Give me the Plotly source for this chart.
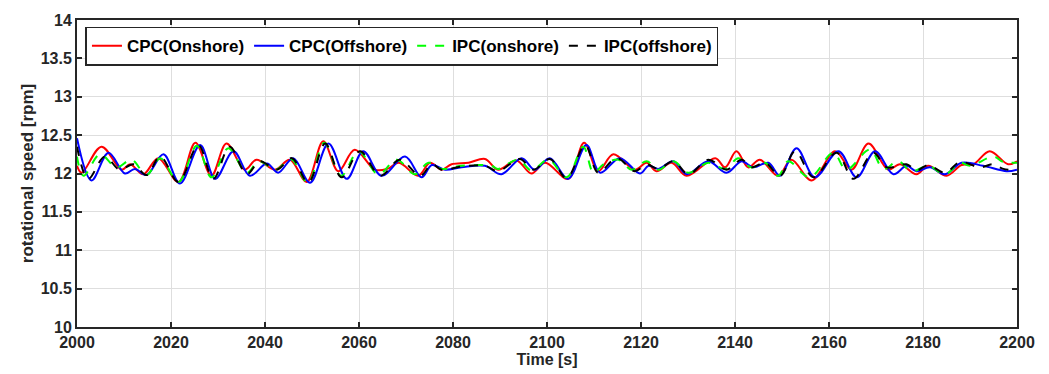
import plotly.graph_objects as go

# ---- data (time [s], rotational speed [rpm]) ----
cpc_on_t = [2000, 2001.0, 2005.2, 2009.5, 2011.3, 2014.1, 2017.3, 2021.6, 2025.2, 2028.6, 2031.8,
            2035.7, 2038.2, 2042.1, 2045.3, 2048.9, 2052.4, 2055.6, 2059.1, 2063.4, 2066.0, 2068.5,
            2072.6, 2075.1, 2077.6, 2079.7, 2083.3, 2086.8, 2089.6, 2093.5, 2096.7, 2099.6,
            2104.5, 2107.9, 2110.9, 2114.1, 2118.7, 2121.2, 2123.3, 2126.5, 2129.7, 2135.8,
            2137.9, 2140.3, 2142.8, 2145.3, 2149.2, 2152.0, 2156.3, 2161.3, 2164.8, 2168.4,
            2172.6, 2175.1, 2178.6, 2181.1, 2185.0, 2188.2, 2190.7, 2194.2, 2198.1, 2200]
cpc_on_v = [12.10, 12.01, 12.35, 12.05, 12.12, 11.99, 12.20, 11.89, 12.40, 11.97, 12.39,
            12.05, 12.18, 12.05, 12.18, 11.89, 12.42, 12.03, 12.31, 12.05, 12.06, 12.14,
            11.97, 12.14, 12.05, 12.12, 12.14, 12.19, 12.05, 12.17, 12.00, 12.14,
            11.93, 12.40, 12.03, 12.25, 12.05, 12.14, 12.03, 12.14, 11.97, 12.20,
            12.08, 12.29, 12.08, 12.18, 11.97, 12.18, 11.91, 12.29, 12.05, 12.39,
            12.05, 12.12, 11.99, 12.10, 11.97, 12.11, 12.12, 12.29, 12.12, 12.16]

cpc_off_t = [2000, 2003.1, 2006.7, 2010.2, 2012.3, 2014.8, 2018.4, 2021.9, 2026.2, 2029.4, 2033.3,
             2036.8, 2040.4, 2042.8, 2046.0, 2049.6, 2053.5, 2057.4, 2060.9, 2064.8,
             2069.8, 2073.3, 2075.5, 2078.3, 2081.8, 2086.8, 2090.3, 2094.6, 2097.4, 2100.6,
             2104.5, 2108.4, 2111.3, 2115.5, 2119.8, 2121.6, 2123.7, 2126.9, 2129.7, 2134.3,
             2138.2, 2141.4, 2143.9, 2147.1, 2149.6, 2153.1, 2157.0, 2162.0, 2165.9, 2169.8,
             2173.7, 2176.5, 2178.6, 2181.5, 2184.7, 2188.2, 2192.8, 2197.8, 2200]
cpc_off_v = [12.46, 11.91, 12.27, 12.00, 12.06, 11.98, 12.25, 11.87, 12.37, 11.93, 12.29,
             11.97, 12.13, 12.01, 12.20, 11.88, 12.39, 11.93, 12.29, 11.97,
             12.22, 11.95, 12.11, 12.05, 12.08, 12.10, 11.99, 12.20, 12.05, 12.20,
             11.93, 12.37, 12.01, 12.20, 12.00, 12.10, 12.06, 12.16, 11.99, 12.16,
             12.01, 12.16, 12.08, 12.14, 11.97, 12.33, 11.95, 12.29, 11.95, 12.29,
             11.99, 12.10, 12.03, 12.08, 11.99, 12.14, 12.10, 12.03, 12.05]

ipc_on_t = [2000, 2001.4, 2004.9, 2008.4, 2011.6, 2014.8, 2017.7, 2021.6, 2025.5, 2028.6, 2032.2,
            2036.1, 2038.7, 2042.3, 2045.5, 2049.1, 2052.6, 2056.2, 2059.9, 2064.1, 2068.0,
            2071.9, 2074.8, 2077.6, 2081.8, 2088.2, 2089.6, 2093.9, 2096.7, 2100.3,
            2104.2, 2107.7, 2109.9, 2112.0, 2115.2, 2118.0, 2121.2, 2123.7, 2126.9, 2130.1, 2134.3,
            2137.9, 2140.7, 2143.5, 2146.4, 2149.2, 2151.3, 2155.9, 2160.9, 2163.7, 2168.7,
            2171.6, 2174.7, 2177.6, 2181.1, 2184.7, 2187.9, 2190.0, 2195.0, 2197.1, 2200]
ipc_on_v = [12.22, 11.97, 12.25, 12.08, 12.18, 11.98, 12.20, 11.89, 12.36, 11.95, 12.33,
            12.01, 12.16, 12.05, 12.19, 11.88, 12.40, 11.97, 12.29, 11.99, 12.18,
            11.99, 12.14, 12.06, 12.10, 12.10, 12.06, 12.18, 12.04, 12.18,
            11.95, 12.35, 12.01, 12.12, 12.18, 12.05, 12.16, 12.05, 12.16, 12.01, 12.14,
            12.06, 12.20, 12.08, 12.14, 11.97, 12.16, 11.95, 12.27, 12.05, 12.31,
            12.06, 12.16, 12.03, 12.10, 11.99, 12.14, 12.10, 12.22, 12.15, 12.14]

ipc_off_t = [2000, 2002.4, 2005.9, 2009.1, 2012.0, 2014.8, 2017.7, 2021.6, 2025.8, 2029.0, 2032.5,
             2036.1, 2038.9, 2042.5, 2045.7, 2049.2, 2052.8, 2056.3, 2060.2, 2064.5, 2068.7,
             2073.0, 2075.5, 2077.6, 2081.8, 2086.8, 2089.6, 2094.2, 2097.1, 2100.6,
             2104.2, 2108.1, 2110.9, 2114.8, 2118.7, 2121.2, 2123.7, 2126.9, 2130.1, 2134.3,
             2138.2, 2141.4, 2143.5, 2146.4, 2149.6, 2152.8, 2156.7, 2161.6, 2165.2, 2169.4,
             2172.3, 2176.5, 2178.6, 2181.1, 2184.7, 2187.9, 2192.1, 2194.9, 2197.1, 2200]
ipc_off_v = [12.35, 11.93, 12.22, 12.05, 12.12, 11.98, 12.22, 11.89, 12.37, 11.93, 12.35,
             11.99, 12.16, 12.05, 12.20, 11.88, 12.39, 11.95, 12.29, 11.97, 12.18,
             11.97, 12.12, 12.05, 12.09, 12.10, 12.03, 12.19, 12.05, 12.19,
             11.94, 12.37, 12.01, 12.20, 12.03, 12.12, 12.06, 12.16, 11.99, 12.18,
             12.05, 12.18, 12.08, 12.14, 11.97, 12.29, 11.95, 12.27, 11.93, 12.27,
             12.08, 12.12, 12.04, 12.11, 12.01, 12.15, 12.08, 12.12, 12.06, 12.04]

series_names = ["CPC(Onshore)", "CPC(Offshore)", "IPC(onshore)", "IPC(offshore)"]
x_tick_vals = [2000, 2020, 2040, 2060, 2080, 2100, 2120, 2140, 2160, 2180, 2200]
x_tick_text = ["2000", "2020", "2040", "2060", "2080", "2100", "2120", "2140", "2160", "2180", "2200"]
y_tick_vals = [10, 10.5, 11, 11.5, 12, 12.5, 13, 13.5, 14]
y_tick_text = ["10", "10.5", "11", "11.5", "12", "12.5", "13", "13.5", "14"]

FONT = "Liberation Sans, Arial, sans-serif"
fig = go.Figure()
styles = [("#ff0000", "solid"), ("#0000ff", "solid"), ("#00ff00", "dash"), ("#000000", "dash")]
data = [(cpc_on_t, cpc_on_v), (cpc_off_t, cpc_off_v), (ipc_on_t, ipc_on_v), (ipc_off_t, ipc_off_v)]
for name, (t, v), (col, dash) in zip(series_names, data, styles):
    fig.add_trace(go.Scatter(x=t, y=v, mode="lines", name="<b>%s</b>" % name,
                             line=dict(color=col, width=2, dash=dash, shape="spline", smoothing=1.0)))

axis_common = dict(showline=True, linecolor="#262626", linewidth=2, mirror="ticks",
                   ticks="inside", ticklen=5, tickwidth=1.5, tickcolor="#262626",
                   showgrid=True, gridcolor="#dedede", gridwidth=1, zeroline=False,
                   tickfont=dict(family=FONT, size=16, color="#262626"))
fig.update_xaxes(range=[2000, 2200], tickvals=x_tick_vals,
                 ticktext=["<b>%s</b>" % s for s in x_tick_text],
                 title=dict(text="<b>Time [s]</b>", font=dict(family=FONT, size=16, color="#262626"), standoff=0),
                 **axis_common)
fig.update_yaxes(range=[10, 14], tickvals=y_tick_vals, ticktext=["<b>%s</b>" % s for s in y_tick_text],
                 title=dict(text="<b>rotational speed [rpm]</b>", font=dict(family=FONT, size=17, color="#262626"), standoff=3),
                 **axis_common)
fig.update_layout(
    width=1049, height=374, margin=dict(l=77, r=32, t=17, b=46),
    paper_bgcolor="white", plot_bgcolor="white",
    font=dict(family=FONT, size=16, color="#262626"),
    legend=dict(orientation="h", x=0.009, y=0.978, xanchor="left", yanchor="top",
                bgcolor="white", bordercolor="#262626", borderwidth=1.5,
                font=dict(family=FONT, size=17, color="#000000"),
                itemwidth=30, tracegroupgap=0, entrywidth=0),
    showlegend=True,
)
fig.write_html("out.html")
